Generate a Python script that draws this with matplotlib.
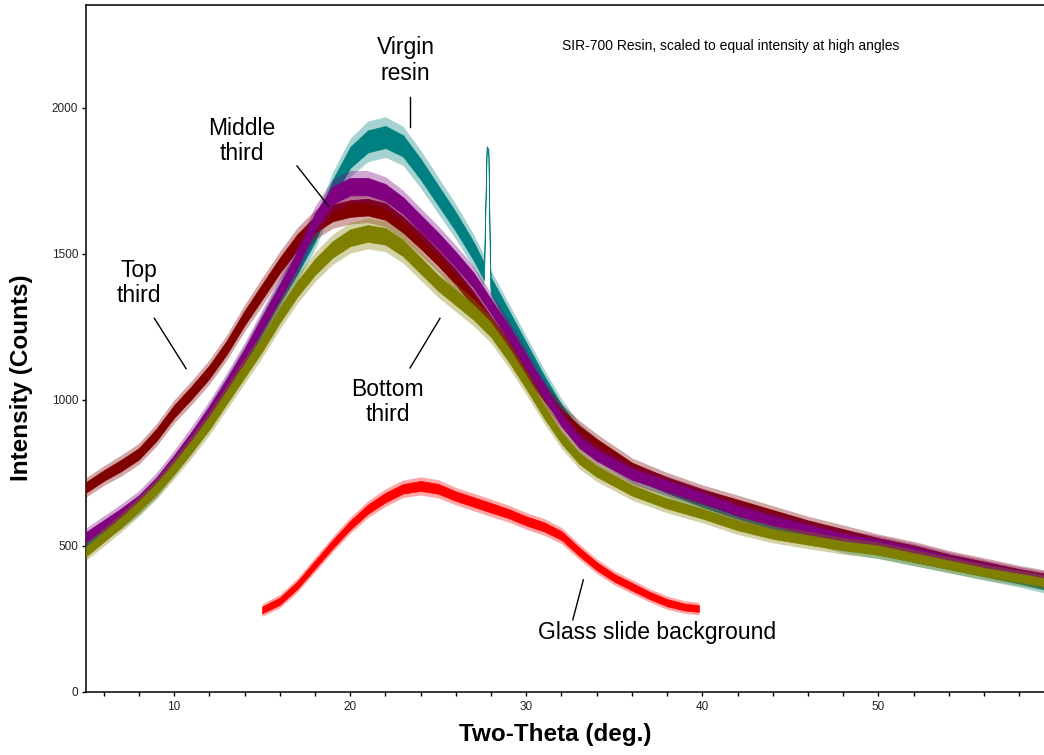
import numpy as np
import matplotlib.pyplot as plt
from matplotlib.ticker import MultipleLocator

plt.rcParams['font.family'] = ['Liberation Sans', 'DejaVu Sans']

# ---- D A T A ---- #
# two-theta grid shared by the three resin layers
twotheta = [5, 6, 7, 8, 9, 10, 11, 12, 13, 14, 15, 16, 17, 18, 19, 20, 21, 22, 23, 24, 25, 26, 27,
            28, 29, 30, 31, 32, 33, 34, 36, 38, 40, 42, 44, 46, 48, 50, 52, 54, 56, 58, 59.4]

top_third = [700, 740, 775, 815, 880, 960, 1025, 1095, 1180, 1280, 1370, 1460, 1540, 1600, 1640, 1655,
             1660, 1645, 1600, 1545, 1485, 1420, 1345, 1260, 1180, 1100, 1020, 945, 890, 845, 765, 715,
             675, 640, 605, 570, 540, 510, 485, 455, 430, 405, 390]
top_noise = [28, 28, 30, 30, 32, 33, 34, 35, 36, 38, 40, 40, 42, 42, 44, 44, 44, 44, 42, 42, 40, 40,
             40, 38, 37, 36, 35, 34, 33, 32, 30, 30, 28, 28, 27, 26, 26, 25, 25, 24, 24, 23, 23]

middle_third = [530, 570, 610, 655, 715, 790, 870, 955, 1050, 1150, 1260, 1370, 1480, 1610, 1700, 1730,
                1730, 1710, 1665, 1605, 1545, 1480, 1410, 1320, 1230, 1130, 1030, 930, 855, 810, 745,
                705, 665, 620, 585, 555, 525, 505, 480, 450, 425, 400, 385]
middle_noise = [26, 27, 28, 28, 30, 31, 33, 35, 36, 38, 40, 41, 42, 44, 46, 46, 46, 45, 44, 43, 42, 41,
                40, 38, 37, 36, 34, 32, 31, 30, 29, 28, 27, 27, 26, 26, 25, 25, 24, 24, 23, 23, 23]

bottom_third = [480, 530, 580, 635, 695, 765, 840, 920, 1010, 1100, 1190, 1290, 1380, 1455, 1515, 1555,
                1570, 1560, 1520, 1460, 1400, 1350, 1300, 1240, 1155, 1060, 960, 870, 800, 755, 690,
                645, 610, 570, 540, 520, 500, 485, 460, 435, 410, 390, 375]
bottom_noise = [25, 26, 27, 28, 29, 30, 32, 34, 35, 37, 38, 40, 41, 42, 43, 44, 44, 44, 43, 42, 41, 40,
                39, 38, 37, 35, 33, 31, 30, 29, 28, 27, 26, 26, 25, 25, 24, 24, 23, 23, 22, 22, 22]

# virgin resin has its own grid because of the sharp line near 27.8 deg
virgin_tt = [5, 6, 7, 8, 9, 10, 11, 12, 13, 14, 15, 16, 17, 18, 19, 20, 21, 22, 23, 24, 25, 26, 27,
             27.6, 27.75, 27.85, 27.95, 28, 29, 30, 31, 32, 33, 34, 36, 38, 40, 42, 44, 46, 48, 50,
             52, 54, 56, 58, 59.4]
virgin = [510, 550, 590, 640, 700, 775, 855, 945, 1040, 1140, 1250, 1360, 1460, 1570, 1720, 1830, 1885,
          1900, 1870, 1790, 1700, 1610, 1510, 1440, 1860, 1850, 1420, 1390, 1280, 1170, 1060, 960, 880,
          830, 750, 700, 650, 610, 575, 540, 505, 485, 460, 435, 410, 385, 365]
virgin_noise = [25, 26, 27, 28, 29, 30, 32, 34, 36, 38, 40, 42, 44, 46, 50, 55, 58, 58, 56, 54, 52, 50,
                48, 46, 12, 12, 44, 44, 42, 40, 38, 36, 33, 31, 30, 28, 27, 26, 26, 25, 25, 24, 24, 23,
                23, 22, 22]

glass_tt = [15, 16, 17, 18, 19, 20, 21, 22, 23, 24, 25, 26, 27, 28, 29, 30, 31, 32, 33, 34, 35, 36, 37,
            38, 39, 39.8]
glass = [280, 310, 365, 435, 505, 570, 625, 665, 695, 705, 695, 670, 650, 630, 610, 585, 565, 535, 480,
         430, 390, 360, 330, 305, 290, 285]
glass_noise = [18, 19, 20, 21, 22, 23, 24, 25, 25, 26, 26, 25, 25, 25, 24, 24, 24, 23, 22, 21, 20, 20,
               19, 19, 18, 18]
# ---- D A T A ---- #


def band(ax, x, y, noise, color, z):
   # the scans are very noisy: a faint halo for the spikes and a solid core around the trend
   x = np.asarray(x, float)
   y = np.asarray(y, float)
   n = np.asarray(noise, float)
   ax.fill_between(x, y - 1.2 * n, y + 1.2 * n, color=color, alpha=0.35, lw=0, zorder=z)
   ax.fill_between(x, y - 0.65 * n, y + 0.65 * n, color=color, lw=0.5, zorder=z + 0.5)


def label(ax, text, xy, line_from, line_to):
   ax.text(xy[0], xy[1], text, ha='center', va='center', fontsize=16.5, linespacing=1.15, zorder=10)
   ax.plot([line_from[0], line_to[0]], [line_from[1], line_to[1]], color='black', lw=1.0, zorder=10)


fig = plt.figure(figsize=(10.44, 7.55), dpi=100)
ax = fig.add_axes([0.0824, 0.0838, 0.9176, 0.9091])

band(ax, virgin_tt, virgin, virgin_noise, '#008080', 2)
band(ax, twotheta, top_third, top_noise, '#800000', 3)
band(ax, twotheta, middle_third, middle_noise, '#800080', 4)
band(ax, twotheta, bottom_third, bottom_noise, '#808000', 5)
band(ax, glass_tt, glass, glass_noise, '#FF0000', 6)

ax.set_xlim(5, 59.4)
ax.set_ylim(0, 2351)
ax.xaxis.set_major_locator(MultipleLocator(10))
ax.xaxis.set_minor_locator(MultipleLocator(2))
ax.set_yticks([0, 500, 1000, 1500, 2000])
ax.tick_params(axis='both', which='both', direction='out', length=3.2, width=1.0, labelsize=8.5,
               labelcolor='#222222')
ax.tick_params(axis='x', pad=3.5)
ax.tick_params(axis='y', pad=2.5)
ax.spines['right'].set_visible(False)
for s in ['left', 'bottom', 'top']:
   ax.spines[s].set_linewidth(1.1)

fig.text(0.532, 0.0265, 'Two-Theta (deg.)', ha='center', va='center', fontsize=17.5, fontweight='bold')
fig.text(0.021, 0.50, 'Intensity (Counts)', ha='center', va='center', rotation=90,
         fontsize=17.5, fontweight='bold')

ax.text(32.03, 2211, 'SIR-700 Resin, scaled to equal intensity at high angles', ha='left', va='center',
        fontsize=10)

label(ax, 'Top\nthird', (8.0, 1400), (8.88, 1279), (10.68, 1107))
label(ax, 'Middle\nthird', (13.86, 1886), (16.98, 1801), (18.78, 1663))
label(ax, 'Virgin\nresin', (23.14, 2163), (23.4, 2038), (23.4, 1935))
label(ax, 'Bottom\nthird', (22.12, 992), (23.4, 1109), (25.1, 1279))
label(ax, 'Glass slide background', (37.45, 204), (32.64, 246), (33.24, 383))

fig.savefig('out.png', dpi=100)
